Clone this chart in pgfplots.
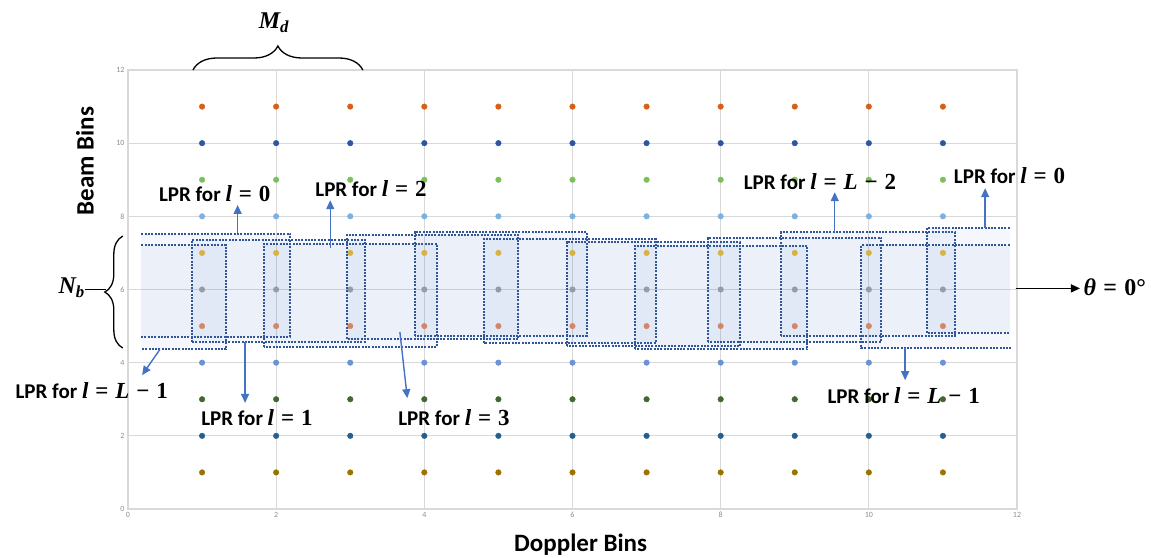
\documentclass[border=0pt]{standalone}
\usepackage{fontspec}
\setmainfont{Carlito}
\newfontfamily\bsf{Liberation Serif}
\usepackage{pgfplots}
\pgfplotsset{compat=1.18}
\usetikzlibrary{decorations.pathreplacing,arrows.meta}
\definecolor{gridc}{HTML}{D9D9D9}
\definecolor{tickc}{HTML}{8C8C8C}
\definecolor{bordc}{HTML}{2F5597}
\definecolor{shadec}{HTML}{4472C4}
\definecolor{arrowc}{HTML}{4472C4}
\definecolor{cA}{HTML}{9A7400}
\definecolor{cB}{HTML}{255E91}
\definecolor{cC}{HTML}{43682B}
\definecolor{cD}{HTML}{6A92D8}
\definecolor{cE}{HTML}{EE8E58}
\definecolor{cF}{HTML}{A5A5A5}
\definecolor{cG}{HTML}{F2C12E}
\definecolor{cH}{HTML}{7EB0E2}
\definecolor{cI}{HTML}{7DC05A}
\definecolor{cJ}{HTML}{2D56A2}
\definecolor{cK}{HTML}{D6601A}
\newcommand{\li}{{\itshape l}}
\newcommand{\Li}{{\itshape L}}
\newcommand{\eq}{\hspace{0.3em}=\hspace{0.3em}}
\newcommand{\mi}{\hspace{0.3em}−\hspace{0.3em}}
\newcommand{\lpr}[1]{{\fontsize{21}{23}\selectfont\bfseries LPR for {\fontsize{23}{25}\selectfont\bsf\bfseries #1}}}
\tikzset{>={Triangle[width=8pt,length=9pt]}}
\tikzset{
  sfill/.style={fill=shadec, fill opacity=0.055},
  sline/.style={draw=bordc, line width=2pt, dash pattern=on 2pt off 1.3pt},
  barrow/.style={draw=arrowc, fill=arrowc, line width=1.4pt, ->}
}
\begin{document}
\begin{tikzpicture}
\path[use as bounding box] (-128pt,-48pt) rectangle (1023pt,509pt);
\begin{axis}[at={(0pt,0pt)}, anchor=south west, scale only axis,
  width=889pt, height=439pt,
  xmin=0, xmax=12, ymin=0, ymax=12,
  xtick={0,2,4,6,8,10,12}, ytick={0,2,4,6,8,10,12},
  grid=major, major grid style={draw=gridc, line width=0.8pt},
  axis line style={draw=gridc, line width=1.2pt},
  major tick length=0pt,
  tick label style={font=\fontsize{8}{9}\selectfont, text=tickc},
  /pgf/number format/assume math mode=true,
  clip=false]
\addplot[only marks, mark=*, mark size=2.8pt, color=cA] coordinates {(1,1) (2,1) (3,1) (4,1) (5,1) (6,1) (7,1) (8,1) (9,1) (10,1) (11,1)};
\addplot[only marks, mark=*, mark size=2.8pt, color=cB] coordinates {(1,2) (2,2) (3,2) (4,2) (5,2) (6,2) (7,2) (8,2) (9,2) (10,2) (11,2)};
\addplot[only marks, mark=*, mark size=2.8pt, color=cC] coordinates {(1,3) (2,3) (3,3) (4,3) (5,3) (6,3) (7,3) (8,3) (9,3) (10,3) (11,3)};
\addplot[only marks, mark=*, mark size=2.8pt, color=cD] coordinates {(1,4) (2,4) (3,4) (4,4) (5,4) (6,4) (7,4) (8,4) (9,4) (10,4) (11,4)};
\addplot[only marks, mark=*, mark size=2.8pt, color=cE] coordinates {(1,5) (2,5) (3,5) (4,5) (5,5) (6,5) (7,5) (8,5) (9,5) (10,5) (11,5)};
\addplot[only marks, mark=*, mark size=2.8pt, color=cF] coordinates {(1,6) (2,6) (3,6) (4,6) (5,6) (6,6) (7,6) (8,6) (9,6) (10,6) (11,6)};
\addplot[only marks, mark=*, mark size=2.8pt, color=cG] coordinates {(1,7) (2,7) (3,7) (4,7) (5,7) (6,7) (7,7) (8,7) (9,7) (10,7) (11,7)};
\addplot[only marks, mark=*, mark size=2.8pt, color=cH] coordinates {(1,8) (2,8) (3,8) (4,8) (5,8) (6,8) (7,8) (8,8) (9,8) (10,8) (11,8)};
\addplot[only marks, mark=*, mark size=2.8pt, color=cI] coordinates {(1,9) (2,9) (3,9) (4,9) (5,9) (6,9) (7,9) (8,9) (9,9) (10,9) (11,9)};
\addplot[only marks, mark=*, mark size=2.8pt, color=cJ] coordinates {(1,10) (2,10) (3,10) (4,10) (5,10) (6,10) (7,10) (8,10) (9,10) (10,10) (11,10)};
\addplot[only marks, mark=*, mark size=2.8pt, color=cK] coordinates {(1,11) (2,11) (3,11) (4,11) (5,11) (6,11) (7,11) (8,11) (9,11) (10,11) (11,11)};
\end{axis}
\begin{scope}[x=74.0833pt, y=36.5833pt]
\path[sfill] (0.18,4.71) rectangle (2.19,7.53);
\draw[sline] (0.18,7.53) -- (2.19,7.53) -- (2.19,4.71) -- (0.18,4.71);
\path[sfill] (0.18,4.36) rectangle (1.32,7.21);
\draw[sline] (0.18,7.21) -- (1.32,7.21) -- (1.32,4.36) -- (0.18,4.36);
\path[sfill] (0.86,4.57) rectangle (3.20,7.35);
\draw[sline] (0.86,4.57) rectangle (3.20,7.35);
\path[sfill] (1.83,4.43) rectangle (4.17,7.24);
\draw[sline] (1.83,4.43) rectangle (4.17,7.24);
\path[sfill] (2.95,4.66) rectangle (5.27,7.49);
\draw[sline] (2.95,4.66) rectangle (5.27,7.49);
\path[sfill] (3.87,4.73) rectangle (6.19,7.58);
\draw[sline] (3.87,4.73) rectangle (6.19,7.58);
\path[sfill] (4.80,4.55) rectangle (7.13,7.37);
\draw[sline] (4.80,4.55) rectangle (7.13,7.37);
\path[sfill] (5.92,4.45) rectangle (8.26,7.30);
\draw[sline] (5.92,4.45) rectangle (8.26,7.30);
\path[sfill] (6.84,4.36) rectangle (9.17,7.19);
\draw[sline] (6.84,4.36) rectangle (9.17,7.19);
\path[sfill] (7.83,4.57) rectangle (10.17,7.42);
\draw[sline] (7.83,4.57) rectangle (10.17,7.42);
\path[sfill] (8.82,4.73) rectangle (11.16,7.57);
\draw[sline] (8.82,4.73) rectangle (11.16,7.57);
\path[sfill] (9.90,4.39) rectangle (11.90,7.21);
\draw[sline] (11.90,7.21) -- (9.90,7.21) -- (9.90,4.39) -- (11.92,4.39);
\path[sfill] (10.79,4.80) rectangle (11.90,7.68);
\draw[sline] (11.90,7.68) -- (10.79,7.68) -- (10.79,4.80) -- (11.90,4.80);

\draw[barrow] (1.48,7.54) -- (1.48,8.31);
\draw[barrow] (2.73,7.13) -- (2.73,8.44);
\draw[barrow] (9.54,7.57) -- (9.54,8.66);
\draw[barrow] (11.57,7.68) -- (11.57,8.77);
\draw[barrow] (0.43,4.36) -- (0.19,3.66);
\draw[barrow] (1.58,4.57) -- (1.58,2.90);
\draw[barrow] (3.67,4.84) -- (3.77,3.03);
\draw[barrow] (10.49,4.39) -- (10.49,3.52);
\draw[line width=1.3pt, fill=black, ->] (11.98,6.03) -- (12.85,6.03);

\node at (1.17,8.63) {\lpr{\li\eq 0}};
\node at (3.28,8.77) {\lpr{\li\eq 2}};
\node at (9.34,8.96) {\lpr{\li\eq\Li\mi 2}};
\node at (11.90,9.10) {\lpr{\li\eq 0}};
\node at (-0.49,3.25) {\lpr{\li\eq\Li\mi 1}};
\node at (1.74,2.51) {\lpr{\li\eq 1}};
\node at (4.40,2.51) {\lpr{\li\eq 3}};
\node at (10.47,3.11) {\lpr{\li\eq\Li\mi 1}};
\node at (13.32,6.07) {\fontsize{24}{26}\selectfont\bsf\bfseries{\itshape θ}\hspace{0.3em}=\hspace{0.3em}0°};

\draw[decorate, decoration={brace, amplitude=18pt}, line width=1.3pt] (-0.07,4.40) -- (-0.07,7.46);
\draw[line width=1.3pt] (-0.58,6.0) -- (-0.30,6.0);
\node at (-0.76,6.04) {\fontsize{24}{26}\selectfont\bsf\bfseries\itshape N\textsubscript{b}};
\draw[decorate, decoration={brace, amplitude=24pt}, line width=1.3pt] (0.877,12.0) -- (3.17,12.0);
\node at (1.97,13.30) {\fontsize{24}{26}\selectfont\bsf\bfseries\itshape M\textsubscript{d}};

\node at (6.11,-0.98) {\fontsize{25}{27}\selectfont\bfseries Doppler Bins};
\node[rotate=90] at (-0.58,9.51) {\fontsize{25}{27}\selectfont\bfseries Beam Bins};
\end{scope}
\end{tikzpicture}
\end{document}
